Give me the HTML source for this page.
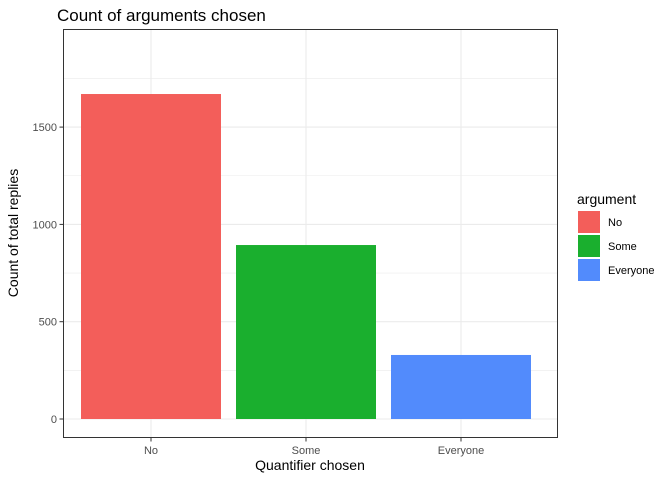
<!DOCTYPE html>
<html><head><meta charset="utf-8"><style>
body{margin:0;background:#fff;font-family:"Liberation Sans",sans-serif;}
</style></head><body>
<svg id="chart" width="672" height="480" xmlns="http://www.w3.org/2000/svg">
<text x="57" y="21" font-size="17" fill="#000">Count of arguments chosen</text>
<rect x="63.5" y="29.5" width="494" height="408" fill="#fff" stroke="none"/>
<g id="grid"></g>
<g id="bars"></g>
<rect x="63.5" y="29.5" width="494" height="408" fill="none" stroke="#333" stroke-width="1"/>
<g id="axes"></g>
<text x="310" y="470" font-size="14" text-anchor="middle">Quantifier chosen</text>
<text transform="translate(18,233) rotate(-90)" font-size="14" text-anchor="middle">Count of total replies</text>
<g id="legend">
<text x="577" y="204" font-size="14">argument</text>
</g>
</svg>
<script>
const categories=["No","Some","Everyone"];
const counts=[1670,894,329];
const colors=["#F35E5A","#1AAF2E","#528BFC"];
const yTicks=[0,500,1000,1500];
const yMinor=[250,750,1250,1750];
const NS="http://www.w3.org/2000/svg";
function y(v){return 419-v*0.1946;}
function x(i){return 151+i*155;}
function mk(tag,attrs,parent){const e=document.createElementNS(NS,tag);for(const k in attrs)e.setAttribute(k,attrs[k]);document.getElementById(parent).appendChild(e);return e;}
yMinor.forEach(v=>{const l=mk("line",{x1:63.5,x2:557.5,y1:y(v),y2:y(v),stroke:"#ebebeb","stroke-width":0.6},"grid");

});
yTicks.forEach(v=>{const l=mk("line",{x1:63.5,x2:557.5,y1:y(v),y2:y(v),stroke:"#ebebeb","stroke-width":1.1},"grid");


const t=mk("line",{x1:59.5,x2:63.5,y1:y(v),y2:y(v),stroke:"#333"},"axes");


const tx=mk("text",{x:57,y:y(v)+4,"font-size":11,"text-anchor":"end",fill:"#4d4d4d"},"axes");tx.textContent=v;

});
categories.forEach((c,i)=>{const l=mk("line",{x1:x(i),x2:x(i),y1:29.5,y2:437.5,stroke:"#ebebeb","stroke-width":1.1},"grid");


const b=mk("rect",{x:x(i)-70,y:y(counts[i]),width:140,height:y(0)-y(counts[i]),fill:colors[i]},"bars");


const t=mk("line",{x1:x(i),x2:x(i),y1:437.5,y2:441.5,stroke:"#333"},"axes");


const tx=mk("text",{x:x(i),y:454,"font-size":11,"text-anchor":"middle",fill:"#4d4d4d"},"axes");tx.textContent=c;


const k=mk("rect",{x:578,y:211+i*24,width:22,height:22,fill:colors[i]},"legend");


const lt=mk("text",{x:608,y:226+i*24,"font-size":11,fill:"#000"},"legend");lt.textContent=c;

});
</script>
</body></html>
